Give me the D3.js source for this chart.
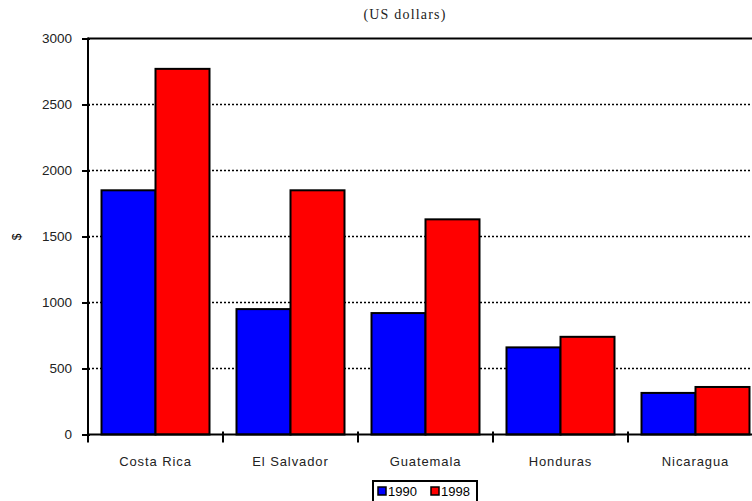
<!DOCTYPE html>
<html>
<head>
<meta charset="utf-8">
<script src="https://cdn.jsdelivr.net/npm/d3@7"></script>
<style>
  body { margin: 0; background: #fff; }
  text { font-family: "Liberation Sans", Arial, sans-serif; }
</style>
</head>
<body>
<div class="chart"></div>
<script>
var countries = ["Costa Rica", "El Salvador", "Guatemala", "Honduras", "Nicaragua"]
var years = ["1990", "1998"]
var values1990 = [1850, 950, 920, 660, 315]
var values1998 = [2770, 1850, 1630, 740, 360]
var yTicks = [0, 500, 1000, 1500, 2000, 2500, 3000]
var colors = {"1990": "#0000ff", "1998": "#ff0000"}

var data = countries.map((c, i) => ({country: c, values: [
    {year: "1990", value: values1990[i]},
    {year: "1998", value: values1998[i]}
]}))

var W = 752, H = 501
var plotLeft = 88, plotTop = 38.5, plotBottom = 434.5
var step = 135

var svg = d3.select(".chart").append("svg")
    .attr("width", W)
    .attr("height", H)

var x0 = d3.scaleBand().domain(countries)
    .range([plotLeft, plotLeft + step * countries.length])
    .paddingInner(0.2).paddingOuter(0.1)
var x1 = d3.scaleBand().domain(years).range([0, x0.bandwidth()])
var y = d3.scaleLinear().domain([0, 3000]).range([plotBottom, plotTop])

// subtitle
svg.append("text")
    .attr("x", 405).attr("y", 19)
    .attr("text-anchor", "middle")
    .attr("fill", "#222")
    .style("font-family", "'Liberation Serif', 'Times New Roman', serif")
    .style("font-size", "14px")
    .style("letter-spacing", "1.2px")
    .text("(US dollars)")

// dotted gridlines
svg.append("g").selectAll("line")
    .data(yTicks.filter(t => t > 0 && t < 3000))
    .enter().append("line")
    .attr("x1", plotLeft).attr("x2", W)
    .attr("y1", d => y(d)).attr("y2", d => y(d))
    .attr("stroke", "#000")
    .attr("stroke-width", 1.5)
    .attr("stroke-dasharray", "2,2")

// top line at 3000
svg.append("line")
    .attr("x1", plotLeft).attr("x2", W)
    .attr("y1", y(3000)).attr("y2", y(3000))
    .attr("stroke", "#000").attr("stroke-width", 2)

// bars
var groups = svg.append("g").selectAll("g")
    .data(data)
    .enter().append("g")
    .attr("transform", d => "translate(" + x0(d.country) + ",0)")

groups.selectAll("rect")
    .data(d => d.values)
    .enter().append("rect")
    .attr("x", d => x1(d.year))
    .attr("y", d => y(d.value))
    .attr("width", x1.bandwidth())
    .attr("height", d => y(0) - y(d.value))
    .attr("fill", d => colors[d.year])
    .attr("stroke", "#000")
    .attr("stroke-width", 2)

// y axis
var yAxis = d3.axisLeft(y).tickValues(yTicks).tickFormat(d3.format("d")).tickSize(6).tickPadding(10)
var gy = svg.append("g")
    .attr("transform", "translate(" + plotLeft + ",0)")
    .call(yAxis)
gy.select(".domain").remove()
gy.selectAll(".tick line").attr("x2", 2).attr("x1", -6).attr("stroke-width", 2)
gy.selectAll(".tick text")
    .style("font-size", "13.5px")
    .style("font-family", "'Liberation Sans', Arial, sans-serif")
    .attr("fill", "#222")
svg.append("line")
    .attr("x1", plotLeft).attr("x2", plotLeft)
    .attr("y1", plotTop - 1).attr("y2", plotBottom + 1)
    .attr("stroke", "#000").attr("stroke-width", 2)

// x axis
svg.append("line")
    .attr("x1", plotLeft).attr("x2", W)
    .attr("y1", plotBottom).attr("y2", plotBottom)
    .attr("stroke", "#000").attr("stroke-width", 2)
svg.append("g").selectAll("line")
    .data(countries)
    .enter().append("line")
    .attr("x1", d => x0(d) - x0.step() * 0.1)
    .attr("x2", d => x0(d) - x0.step() * 0.1)
    .attr("y1", plotBottom - 3).attr("y2", plotBottom + 8)
    .attr("stroke", "#000").attr("stroke-width", 2)
svg.append("g").selectAll("text")
    .data(countries)
    .enter().append("text")
    .attr("x", d => x0(d) + x0.bandwidth() / 2)
    .attr("y", 466)
    .attr("text-anchor", "middle")
    .attr("fill", "#222")
    .style("font-size", "13px")
    .style("letter-spacing", "0.9px")
    .text(d => d)

// y label
svg.append("text")
    .attr("transform", "translate(21,237) rotate(-90)")
    .attr("text-anchor", "middle")
    .style("font-size", "12px")
    .text("$")

// legend
var lg = svg.append("g").attr("transform", "translate(373,481)")
lg.append("rect")
    .attr("width", 104).attr("height", 24)
    .attr("fill", "#fff").attr("stroke", "#000").attr("stroke-width", 2)
var items = lg.selectAll(".item")
    .data(years)
    .enter().append("g")
    .attr("class", "item")
    .attr("transform", (d, i) => "translate(" + (5 + i * 53) + ",0)")
items.append("rect")
    .attr("y", 6).attr("width", 8).attr("height", 8)
    .attr("fill", d => colors[d]).attr("stroke", "#000").attr("stroke-width", 1.5)
items.append("text")
    .attr("x", 10).attr("y", 15)
    .style("font-size", "13px")
    .text(d => d)
</script>
</body>
</html>
